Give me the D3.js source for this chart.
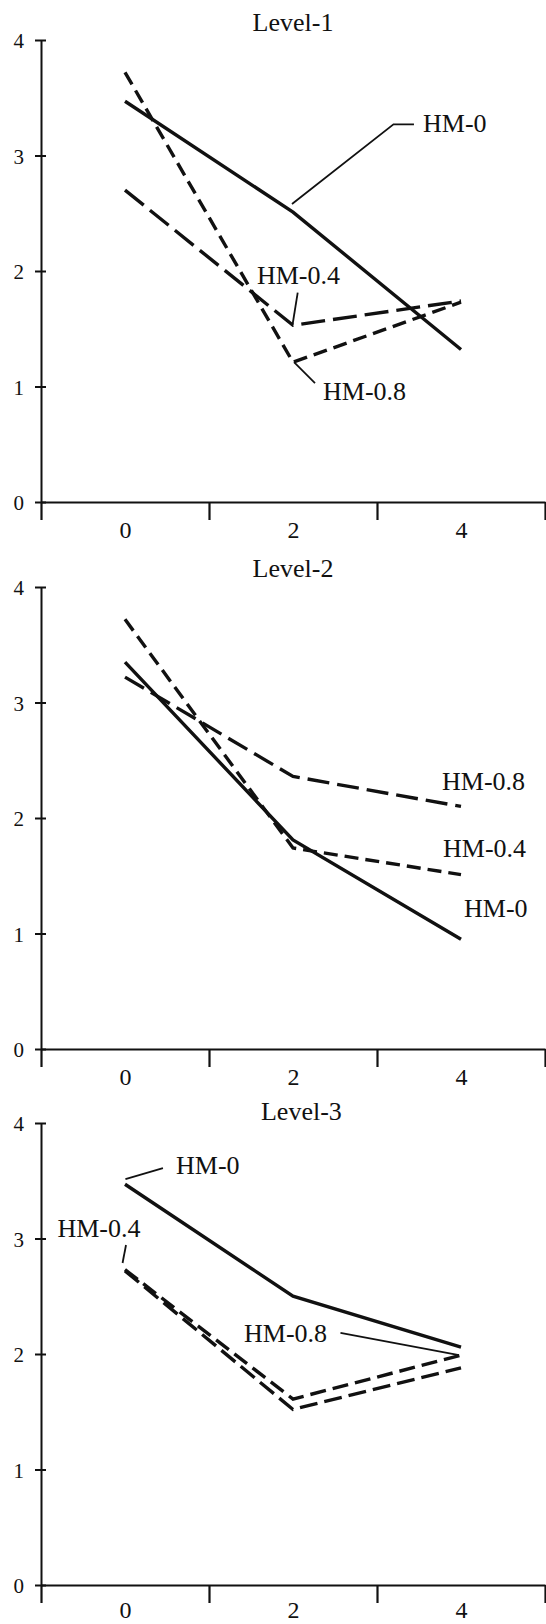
<!DOCTYPE html>
<html>
<head>
<meta charset="utf-8">
<script src="https://cdn.jsdelivr.net/npm/d3@7"></script>
<style>
  body { margin: 0; background: #fff; }
  svg text { font-family: "Liberation Serif", "Times New Roman", serif; fill: #111; }
</style>
</head>
<body>
<svg id="chart" width="546" height="1624"></svg>
<script>
// data
const xValues = [0, 2, 4];
const yTicks = [0, 1, 2, 3, 4];
const panelTitles = ["Level-1", "Level-2", "Level-3"];
const seriesNames = ["HM-0", "HM-0.4", "HM-0.8"];

const level1HM0 = [3.47, 2.51, 1.32];
const level1HM04 = [2.70, 1.53, 1.74];
const level1HM08 = [3.72, 1.21, 1.73];

const level2HM0 = [3.35, 1.81, 0.95];
const level2HM04 = [3.72, 1.74, 1.51];
const level2HM08 = [3.22, 2.36, 2.10];

const level3HM0 = [3.47, 2.50, 2.06];
const level3HM04 = [2.72, 1.52, 1.88];
const level3HM08 = [2.73, 1.61, 1.99];

//layout of each panel (top = y of the "4" tick)
const panelTops = [40, 587, 1123];
const titleOffsets = [[2.0, -9], [2.0, -10], [2.1, -3]];
const xLabelOffsets = [28, 28, 25];

//dash style per panel, same order as seriesNames
const dashes = [
  [null, "24,8", "14,7"],
  [null, "14,7", "22,8"],
  [null, "18,7", "16,7"]
];

//label text positions and leader lines in data units
const notes = [
  [
    {text: "HM-0", at: [3.548, 3.203], leader: [[3.44, 3.27], [3.196, 3.27], [1.988, 2.58]]},
    {text: "HM-0.4", at: [1.571, 1.887], leader: [[2.056, 1.812], [1.996, 1.541]]},
    {text: "HM-0.8", at: [2.357, 0.886], leader: [[2.262, 1.03], [2.012, 1.212]]}
  ],
  [
    {text: "HM-0.8", at: [3.774, 2.242], leader: null},
    {text: "HM-0.4", at: [3.786, 1.662], leader: null},
    {text: "HM-0", at: [4.036, 1.143], leader: null}
  ],
  [
    {text: "HM-0", at: [0.607, 3.558], leader: [[0.452, 3.61], [0.005, 3.515]]},
    {text: "HM-0.4", at: [-0.804, 3.013], leader: [[0.012, 2.944], [-0.029, 2.788]]},
    {text: "HM-0.8", at: [1.417, 2.104], leader: [[2.565, 2.182], [3.976, 1.991]]}
  ]
];

const panels = [
  [level1HM0, level1HM04, level1HM08],
  [level2HM0, level2HM04, level2HM08],
  [level3HM0, level3HM04, level3HM08]
];

const svg = d3.select("#chart");
const plotH = 462;

let x = d3.scaleLinear().domain([-1, 5]).range([41, 545]);
let y = d3.scaleLinear().domain([0, 4]).range([plotH, 0]);

let line = d3.line()
  .x((d, i) => x(xValues[i]))
  .y(d => y(d));

let leaderLine = d3.line()
  .x(d => x(d[0]))
  .y(d => y(d[1]));

panels.forEach((series, p) => {
  let g = svg.append("g").attr("transform", "translate(0," + panelTops[p] + ")");

  //x axis: ticks between the categories
  let xa = g.append("g")
    .attr("transform", "translate(0," + plotH + ")")
    .call(d3.axisBottom(x).tickValues([-1, 1, 3, 5]).tickFormat("").tickSizeInner(18).tickSizeOuter(0));
  xa.select(".domain").attr("stroke", "#111").attr("stroke-width", 2.2);
  xa.selectAll(".tick line").attr("stroke", "#111").attr("stroke-width", 2.2);
  xa.selectAll(".tick text").remove();

  //x category labels
  let xl = g.append("g")
    .attr("transform", "translate(0," + plotH + ")")
    .call(d3.axisBottom(x).tickValues(xValues).tickFormat(d3.format("d")).tickSize(0).tickPadding(0));
  xl.select(".domain").remove();
  xl.selectAll(".tick text")
    .attr("y", xLabelOffsets[p])
    .attr("dy", "0.35em")
    .attr("font-size", 24)
    .attr("font-family", "Liberation Serif");

  //y axis with ticks crossing the line
  let ya = g.append("g")
    .attr("transform", "translate(41,0)")
    .call(d3.axisLeft(y).tickValues(yTicks).tickFormat(d3.format("d")).tickSizeInner(6).tickSizeOuter(0));
  ya.select(".domain").attr("stroke", "#111").attr("stroke-width", 2);
  ya.selectAll(".tick line").attr("x1", 5).attr("stroke", "#111").attr("stroke-width", 2);
  ya.selectAll(".tick text")
    .attr("x", -17)
    .attr("dy", "0.37em")
    .attr("font-size", 21)
    .attr("font-family", "Liberation Serif");

  //title
  g.append("text")
    .attr("x", x(titleOffsets[p][0]))
    .attr("y", titleOffsets[p][1])
    .attr("text-anchor", "middle")
    .attr("font-size", 26)
    .text(panelTitles[p]);

  //the three lines
  series.forEach((vals, s) => {
    g.append("path")
      .datum(vals)
      .attr("class", "series " + seriesNames[s])
      .attr("fill", "none")
      .attr("stroke", "#111")
      .attr("stroke-width", 3.4)
      .attr("stroke-dasharray", dashes[p][s])
      .attr("d", line);
  });

  //labels + leaders
  notes[p].forEach(n => {
    g.append("text")
      .attr("x", x(n.at[0]))
      .attr("y", y(n.at[1]))
      .attr("font-size", 26)
      .text(n.text);
    if (n.leader) {
      g.append("path")
        .datum(n.leader)
        .attr("fill", "none")
        .attr("stroke", "#111")
        .attr("stroke-width", 1.8)
        .attr("d", leaderLine);
    }
  });
});
</script>
</body>
</html>
